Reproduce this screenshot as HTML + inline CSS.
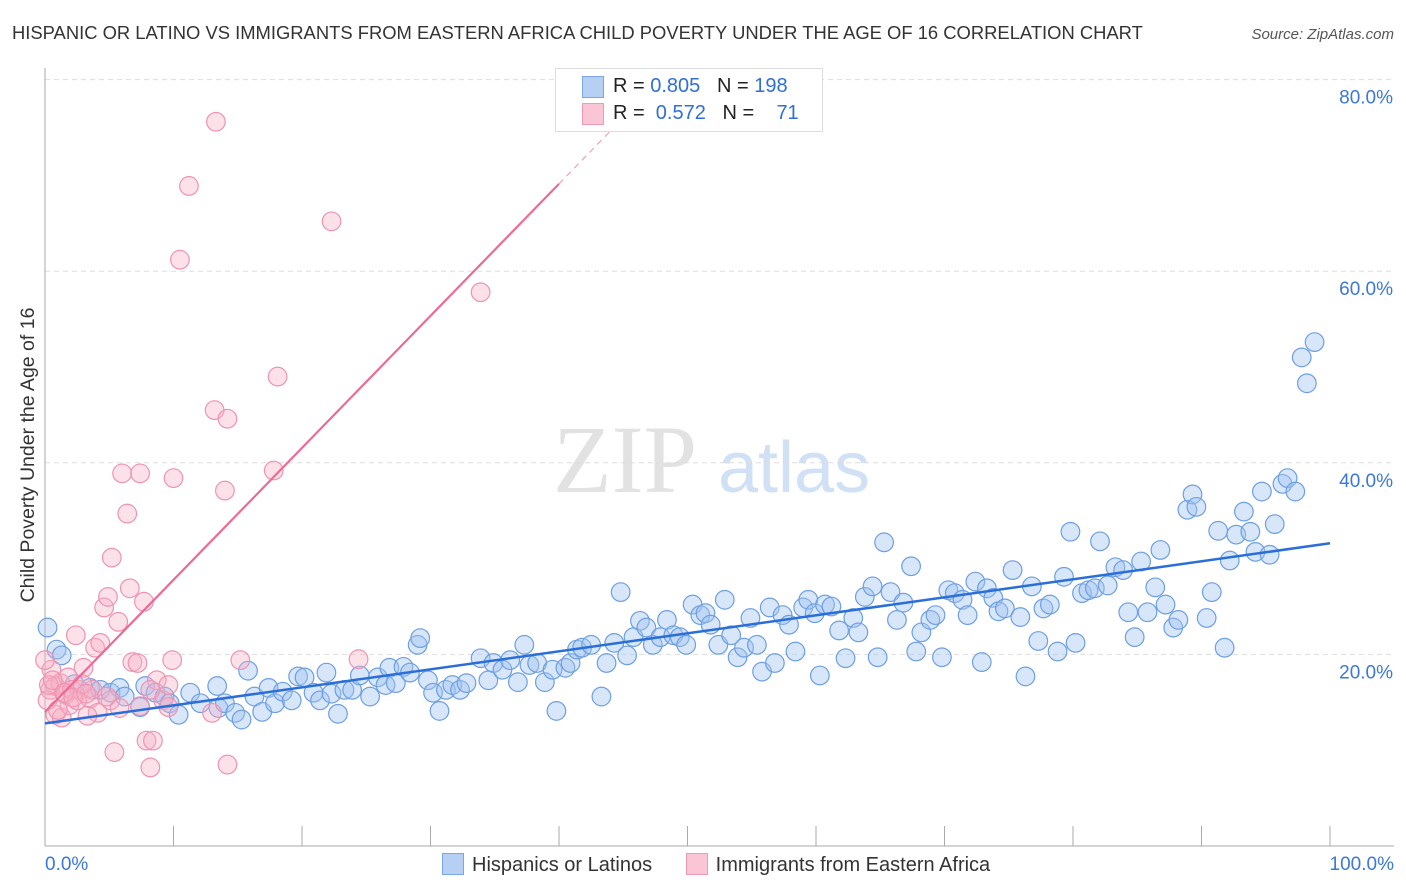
<!DOCTYPE html>
<html><head><meta charset="utf-8"><style>
body{margin:0;background:#fff;font-family:"Liberation Sans",sans-serif;}
#wrap{position:relative;width:1406px;height:892px;overflow:hidden;}
</style></head><body>
<div id="wrap">
<svg id="svg" width="1406" height="892" xmlns="http://www.w3.org/2000/svg">
<text x="12" y="39" font-size="18.4" fill="#333">HISPANIC OR LATINO VS IMMIGRANTS FROM EASTERN AFRICA CHILD POVERTY UNDER THE AGE OF 16 CORRELATION CHART</text>
<text x="1394" y="39" font-size="15" fill="#555" font-style="italic" text-anchor="end">Source: ZipAtlas.com</text>
<text transform="translate(34,455) rotate(-90)" font-size="19.5" fill="#333" text-anchor="middle">Child Poverty Under the Age of 16</text>
<g><text x="553" y="492" font-size="96" font-family="Liberation Serif,serif" fill="#e2e2e2">ZIP</text><text x="718" y="492" font-size="72" fill="#d0e0f5">atlas</text></g>
<g id="grid"></g><g id="marks"></g><g id="lines"></g>
</svg>
<div style="position:absolute;left:555px;top:68px;width:266px;height:62px;border:1px solid #ddd;background:#fff;font-size:20px;">
<div style="position:absolute;left:26px;top:7px;width:20px;height:20px;background:#b6d0f4;border:1px solid #7aa6e6;"></div>
<div style="position:absolute;left:57px;top:6px;color:#222;">R = <span style="color:#2f6fd6">0.805</span>&nbsp;&nbsp;&nbsp;N = <span style="color:#2f6fd6">198</span></div>
<div style="position:absolute;left:26px;top:34px;width:20px;height:20px;background:#fac6d6;border:1px solid #f09ab6;"></div>
<div style="position:absolute;left:57px;top:33px;color:#222;">R = &nbsp;<span style="color:#2f6fd6">0.572</span>&nbsp;&nbsp;&nbsp;N = &nbsp;&nbsp;&nbsp;<span style="color:#2f6fd6">71</span></div>
</div>
<div style="position:absolute;left:442px;top:853px;font-size:20px;color:#333;">
<span style="display:inline-block;width:20px;height:20px;background:#b6d0f4;border:1px solid #7aa6e6;vertical-align:-4px;margin-right:8px;"></span><span>Hispanics or Latinos</span>
<span style="display:inline-block;width:20px;height:20px;background:#fac6d6;border:1px solid #f09ab6;vertical-align:-4px;margin:0 8px 0 28px;"></span><span>Immigrants from Eastern Africa</span>
</div>
</div>
<script>
const blueX=[0.2,0.9,1.3,2.3,3.5,4.3,5.1,5.8,6.2,7.4,7.8,8.6,9.3,9.7,10.4,11.3,12.1,13.4,13.5,14.0,14.8,15.3,15.8,16.3,16.9,17.4,17.9,18.5,19.2,19.7,20.2,20.9,21.4,21.9,22.3,22.8,23.3,23.9,24.5,25.3,25.9,26.5,26.8,27.3,27.9,28.4,29.0,29.2,29.8,30.2,30.7,31.2,31.7,32.3,32.8,33.9,34.5,34.9,35.6,36.2,36.8,37.3,37.7,38.3,38.9,39.5,39.8,40.5,40.9,41.4,41.8,42.5,43.3,43.7,44.3,44.8,45.3,45.8,46.3,46.8,47.3,47.9,48.4,48.9,49.4,49.9,50.4,51.0,51.4,51.8,52.4,52.9,53.4,53.9,54.4,54.9,55.4,55.8,56.4,56.8,57.4,57.9,58.4,59.0,59.4,59.9,60.3,60.7,61.2,61.8,62.3,62.9,63.3,63.8,64.4,64.8,65.3,65.8,66.3,66.8,67.4,67.8,68.2,68.9,69.3,69.8,70.3,70.8,71.4,71.8,72.4,72.9,73.3,73.8,74.2,74.7,75.3,75.9,76.3,76.8,77.3,77.7,78.2,78.8,79.3,79.8,80.2,80.7,81.2,81.7,82.1,82.7,83.3,83.9,84.3,84.8,85.3,85.8,86.4,86.8,87.2,87.8,88.2,88.9,89.3,89.6,90.4,90.8,91.3,91.8,92.2,92.7,93.3,93.8,94.2,94.7,95.3,95.7,96.3,96.7,97.3,97.8,98.2,98.8];
const blueY=[22.8,20.5,19.9,16.9,16.5,16.3,16.0,16.5,15.6,14.5,16.7,16.0,15.6,14.9,13.7,16.0,14.9,16.7,14.4,14.9,13.9,13.2,18.3,15.6,14.0,16.5,14.9,16.1,15.2,17.7,17.6,16.0,15.2,18.1,15.9,13.8,16.3,16.3,17.8,15.6,17.6,16.8,18.6,17.0,18.7,18.1,21.0,21.7,17.3,16.0,14.1,16.3,16.8,16.3,17.0,19.6,17.3,19.1,18.4,19.4,17.1,21.0,18.9,19.1,17.1,18.4,14.1,18.6,19.1,20.5,20.7,21.0,15.6,19.1,21.2,26.5,19.9,21.8,23.5,22.8,21.0,21.8,23.6,22.0,21.8,21.0,25.2,24.1,24.3,23.1,21.0,25.7,22.0,19.7,20.7,23.8,21.0,18.2,24.9,19.1,24.1,23.1,20.3,24.9,25.7,24.3,17.8,25.2,25.0,22.5,19.6,23.8,22.3,26.0,27.1,19.7,31.7,26.5,23.6,25.4,29.2,20.3,22.3,23.6,24.1,19.7,26.7,26.4,25.7,24.1,27.6,19.2,26.9,25.9,24.5,24.8,28.8,23.9,17.7,27.1,21.4,24.8,25.2,20.3,28.1,32.8,21.2,26.4,26.7,26.9,31.8,27.2,29.1,28.8,24.4,21.8,29.7,24.4,27.0,30.9,25.2,22.8,23.6,35.1,36.7,35.4,23.8,26.5,32.9,20.7,29.8,32.5,34.9,32.8,30.7,37.0,30.4,33.6,37.8,38.4,37.0,51.0,48.3,52.6];
const pinkX=[0.5,0.8,0.4,1.2,1.6,1.8,2.1,2.4,2.7,3.0,3.5,3.9,4.1,4.3,4.6,4.9,5.2,5.4,5.7,6.0,6.4,6.6,6.8,7.2,7.4,7.7,7.9,8.2,8.4,8.7,9.2,9.6,9.9,10.0,10.5,11.2,13.0,13.2,13.3,14.0,14.2,14.2,15.2,17.8,18.1,22.3,24.4,33.9,0.2,0.8,1.3,1.9,2.5,3.3,3.7,5.1,5.8,7.4,8.2,9.6,0,4.8,1.0,0.3,0.6,1.5,2.2,2.9,3.2];
const pinkY=[18.4,16.7,16.3,17.0,15.8,17.6,16.3,22.0,16.3,18.6,15.4,20.7,13.9,21.2,24.9,26.0,30.1,9.8,23.4,38.9,34.7,26.9,19.2,19.1,38.9,25.5,11.0,8.2,11.0,17.3,15.2,14.5,19.4,38.4,61.2,68.9,13.9,45.5,75.6,37.1,44.6,8.5,19.4,39.2,49.0,65.2,19.5,57.8,15.2,13.7,13.4,14.7,15.2,13.6,16.3,15.2,14.4,14.6,16.3,16.8,19.4,15.6,14.2,16.8,17.3,16.0,15.5,16.9,15.9];
const xTicks=[0,10,20,30,40,50,60,70,80,90,100];
const yTicks=[20,40,60,80];
const blueFit=[12.8,31.6];
const pinkFit=[14.0,1.378];
const X=v=>45+v*12.85, Y=v=>846-v*9.58;
const NS="http://www.w3.org/2000/svg";
function mk(tag,attrs,parent){const e=document.createElementNS(NS,tag);for(const k in attrs)e.setAttribute(k,attrs[k]);document.getElementById(parent).appendChild(e);return e;}
yTicks.forEach(t=>{
 const l=mk('line',{x1:45,x2:1394,y1:Y(t),y2:Y(t),stroke:'#ddd','stroke-dasharray':'5,4'},'grid');
 
 
 const tx=mk('text',{x:1393,y:Y(t)+24,'font-size':19,fill:'#3b78d8','text-anchor':'end'},'grid');
 tx.textContent=t.toFixed(1)+'%';
 
 
});
const ax=mk('line',{x1:45,x2:45,y1:68,y2:846,stroke:'#aaa'},'grid');


const bx=mk('line',{x1:45,x2:1394,y1:846,y2:846,stroke:'#aaa'},'grid');


xTicks.forEach(t=>{
 const l=mk('line',{x1:X(t),x2:X(t),y1:826,y2:846,stroke:'#aaa'},'grid');
 
 
});
[[0,'0.0%','start',45],[100,'100.0%','end',1394]].forEach(a=>{
 const tx=mk('text',{x:a[3],y:870,'font-size':19,fill:'#3b78d8','text-anchor':a[2]},'grid');
 tx.textContent=a[1];
 
 
});
blueX.forEach((v,i)=>{
 const c=mk('circle',{cx:X(v),cy:Y(blueY[i]),r:9.3,fill:'rgba(160,195,240,0.42)',stroke:'#6d9fe2','stroke-width':1.2},'marks');
 
 
});
pinkX.forEach((v,i)=>{
 const c=mk('circle',{cx:X(v),cy:Y(pinkY[i]),r:9.3,fill:'rgba(246,175,198,0.38)',stroke:'#ef93b2','stroke-width':1.2},'marks');
 
 
});
const bl=mk('line',{x1:X(0),y1:Y(blueFit[0]),x2:X(100),y2:Y(blueFit[1]),stroke:'#2a6ed8','stroke-width':2.5},'lines');


const pl=mk('line',{x1:X(0),y1:Y(pinkFit[0]),x2:X(40),y2:Y(pinkFit[0]+40*pinkFit[1]),stroke:'#ec6b95','stroke-width':2.2},'lines');


const pd=mk('line',{x1:X(40),y1:Y(pinkFit[0]+40*pinkFit[1]),x2:X(44.5),y2:Y(pinkFit[0]+44.5*pinkFit[1]),stroke:'#f0a0ba','stroke-width':1.2,'stroke-dasharray':'6,5'},'lines');


</script>
</body></html>
